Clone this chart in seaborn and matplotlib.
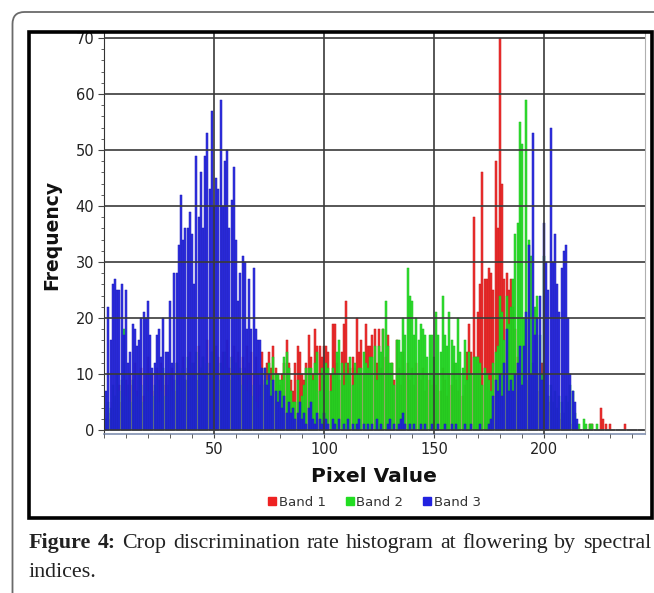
import numpy as np
import pandas as pd
import matplotlib
matplotlib.use("Agg")
import matplotlib.pyplot as plt
import seaborn as sns
from matplotlib.patches import FancyBboxPatch, Rectangle
from matplotlib.transforms import IdentityTransform
from matplotlib.lines import Line2D
from matplotlib.ticker import MultipleLocator, FixedLocator

# ---------------- data ----------------
pixel_values = list(range(246))

band1 = [
    0, 0, 2, 3, 5, 4, 6, 8, 5, 7,
    9, 6, 10, 8, 12, 7, 9, 11, 6, 10,
    13, 8, 10, 7, 11, 9, 12, 8, 10, 6,
    9, 11, 7, 12, 10, 8, 13, 9, 11, 14,
    10, 12, 9, 15, 11, 13, 10, 16, 12, 14,
    11, 15, 13, 10, 14, 12, 16, 11, 13, 15,
    12, 14, 10, 13, 11, 15, 12, 14, 10, 13,
    10, 8, 14, 9, 12, 14, 11, 15, 11, 10,
    8, 10, 12, 16, 12, 9, 7, 12, 15, 14,
    10, 9, 12, 17, 13, 10, 18, 15, 15, 13,
    15, 15, 14, 10, 19, 19, 12, 9, 14, 19,
    23, 12, 11, 13, 11, 20, 14, 16, 10, 19,
    15, 15, 17, 18, 12, 18, 11, 18, 13, 17,
    10, 12, 9, 16, 11, 8, 14, 10, 12, 9,
    11, 8, 12, 10, 9, 11, 7, 10, 9, 8,
    10, 8, 10, 7, 11, 9, 6, 10, 8, 12,
    9, 7, 10, 6, 8, 14, 19, 14, 38, 13,
    21, 26, 46, 27, 27, 29, 28, 25, 48, 36,
    70, 44, 27, 28, 25, 27, 22, 18, 13, 10,
    8, 12, 20, 9, 6, 8, 5, 10, 7, 12,
    12, 8, 5, 6, 3, 4, 2, 3, 2, 1,
    2, 1, 1, 0, 0, 0, 0, 0, 0, 0,
    0, 1, 1, 0, 0, 0, 4, 2, 1, 0,
    1, 0, 0, 0, 0, 0, 0, 1, 0, 0,
    0, 0, 0, 0, 0, 0,
]

band2 = [
    0, 2, 5, 4, 8, 6, 10, 7, 9, 18,
    6, 8, 5, 9, 7, 6, 10, 8, 5, 9,
    7, 10, 6, 8, 9, 5, 7, 11, 6, 8,
    10, 7, 9, 12, 8, 10, 11, 9, 13, 10,
    12, 9, 14, 10, 11, 13, 9, 12, 10, 14,
    11, 13, 9, 12, 10, 14, 11, 9, 13, 10,
    12, 9, 11, 8, 10, 7, 9, 6, 8, 5,
    4, 6, 8, 11, 9, 12, 9, 13, 10, 10,
    9, 9, 13, 14, 11, 7, 5, 5, 9, 4,
    6, 8, 11, 11, 11, 9, 12, 14, 7, 11,
    10, 12, 11, 7, 11, 10, 14, 16, 12, 8,
    12, 10, 13, 8, 12, 10, 11, 11, 14, 12,
    11, 13, 13, 15, 9, 15, 14, 18, 23, 15,
    12, 12, 8, 16, 16, 14, 20, 17, 29, 24,
    23, 17, 20, 16, 19, 18, 17, 13, 17, 17,
    13, 21, 17, 14, 24, 17, 15, 21, 16, 15,
    12, 20, 14, 11, 16, 9, 14, 10, 13, 13,
    13, 12, 8, 11, 10, 9, 7, 12, 14, 15,
    24, 21, 16, 24, 19, 22, 27, 35, 37, 55,
    51, 20, 59, 34, 31, 12, 22, 24, 17, 10,
    31, 10, 6, 8, 5, 7, 4, 6, 5, 3,
    6, 5, 8, 7, 3, 1, 1, 0, 2, 1,
    0, 1, 1, 0, 1, 0, 0, 0, 0, 0,
    0, 0, 0, 0, 0, 0, 0, 0, 0, 0,
    0, 0, 0, 0, 0, 0,
]

band3 = [
    0, 7, 22, 16, 26, 27, 25, 25, 26, 17,
    25, 12, 14, 19, 18, 15, 16, 20, 21, 20,
    23, 17, 11, 12, 17, 18, 13, 20, 14, 14,
    23, 12, 28, 28, 33, 42, 34, 36, 36, 39,
    35, 26, 49, 38, 46, 36, 49, 53, 43, 57,
    40, 45, 43, 59, 40, 48, 50, 36, 41, 47,
    34, 23, 28, 31, 30, 18, 27, 18, 29, 18,
    16, 16, 11, 11, 8, 10, 6, 9, 7, 5,
    7, 4, 6, 3, 5, 3, 4, 2, 3, 5,
    2, 3, 1, 4, 5, 2, 1, 3, 2, 1,
    3, 2, 1, 0, 2, 1, 0, 2, 0, 1,
    0, 2, 0, 1, 0, 1, 2, 0, 1, 0,
    1, 0, 1, 0, 2, 0, 1, 0, 0, 1,
    2, 0, 1, 0, 1, 2, 3, 1, 0, 1,
    0, 1, 0, 0, 1, 0, 1, 0, 0, 1,
    0, 0, 1, 0, 0, 1, 0, 0, 1, 0,
    1, 0, 0, 0, 1, 0, 0, 1, 0, 0,
    0, 1, 0, 0, 0, 1, 2, 6, 9, 7,
    10, 6, 12, 18, 7, 9, 7, 10, 12, 15,
    8, 15, 21, 33, 10, 53, 17, 20, 24, 9,
    37, 30, 25, 54, 30, 35, 26, 21, 29, 32,
    33, 20, 10, 7, 5, 2, 0, 0, 0, 0,
    0, 0, 0, 0, 0, 0, 0, 0, 0, 0,
    0, 0, 0, 0, 0, 0, 0, 0, 0, 0,
    0, 0, 0, 0, 0, 0,
]

band_names = ["Band 1", "Band 2", "Band 3"]
band_colors = ["#ee2222", "#22dd22", "#2222e0"]
band_edges = ["#c81818", "#1cbc1c", "#1a1ab8"]
x_tick_values = [50, 100, 150, 200]
y_tick_values = [0, 10, 20, 30, 40, 50, 60, 70]
x_label = "Pixel Value"
y_label = "Frequency"
caption_bold = "Figure 4:"
caption_line1 = "Crop discrimination rate histogram at flowering by spectral"
caption_line2 = "indices."

# ---------------- figure ----------------
sns.set_style("white")
plt.rcParams["font.family"] = ["DejaVu Sans"]
W, H = 654, 593
fig = plt.figure(figsize=(W / 100, H / 100), dpi=100)

ax_left, ax_right, ax_top, ax_bottom = 104, 645, 33, 434
ax = fig.add_axes([ax_left / W, 1 - ax_bottom / H,
                   (ax_right - ax_left) / W, (ax_bottom - ax_top) / H])

df = pd.DataFrame({"Pixel Value": pixel_values * 3,
                   "Frequency": band1 + band2 + band3,
                   "Band": [b for b in band_names for _ in pixel_values]})

for name, col, ec in zip(band_names, band_colors, band_edges):
    sub = df[df["Band"] == name]
    sns.histplot(data=sub, x="Pixel Value", weights="Frequency", discrete=True,
                 shrink=0.9, color=col, alpha=0.93, edgecolor=ec,
                 linewidth=0.35, ax=ax)

ax.set_xlim(0, 245.9)
ax.set_ylim(-0.72, 70.9)
ax.xaxis.set_major_locator(FixedLocator(x_tick_values))
ax.yaxis.set_major_locator(FixedLocator(y_tick_values))
ax.xaxis.set_minor_locator(MultipleLocator(10))
ax.yaxis.set_minor_locator(MultipleLocator(2))
ax.grid(True, which="major", color="#3a3a3a", linewidth=1.2)
ax.set_axisbelow(False)
ax.tick_params(axis="both", which="both", direction="out", colors="#444444",
               labelcolor="#222222", labelsize=10.5)
ax.tick_params(axis="y", which="major", length=4, left=True, pad=3)
ax.tick_params(axis="y", which="minor", length=2.5, left=True)
ax.tick_params(axis="x", which="major", length=3, bottom=True, pad=3)
ax.tick_params(axis="x", which="minor", length=3, bottom=True)
ax.set_xlabel("")
ax.set_ylabel("")
ax.spines["top"].set_visible(False)
ax.spines["left"].set_color("#333333")
ax.spines["bottom"].set_color("#8090b0")
ax.spines["bottom"].set_linewidth(1.2)
ax.spines["right"].set_color("#b0b0b0")

fig.text(374 / W, 1 - 477 / H, x_label, ha="center", va="center",
         fontsize=14.5, fontweight="bold", color="#111111")
fig.text(52 / W, 1 - 235 / H, y_label, ha="center", va="center",
         rotation=90, fontsize=13.5, fontweight="bold", color="#111111")

handles = [Line2D([0], [0], marker="s", linestyle="none", markersize=5.5,
                  markerfacecolor=c, markeredgecolor=c) for c in band_colors]
fig.legend(handles, band_names, loc="center", bbox_to_anchor=(374 / W, 1 - 502 / H),
           ncol=3, frameon=False, fontsize=9.5, handletextpad=0.1,
           columnspacing=1.4, handlelength=0.8, labelcolor="#333333",
           borderpad=0)

# frames
idt = IdentityTransform()
outer = FancyBboxPatch((12.5, H - 640), 720, 640 - 12,
                       boxstyle="round,pad=0,rounding_size=12",
                       fc="none", ec="#6a6a6a", lw=1.3, transform=idt)
fig.add_artist(outer)
inner = Rectangle((28.5, H - 518), 651.5 - 28.5, 518 - 31.5,
                  fc="none", ec="black", lw=2.6, transform=idt)
fig.add_artist(inner)

# caption (justified first line)
serif = ["Liberation Serif", "DejaVu Serif"]
cap_size = 15.8
renderer = fig.canvas.get_renderer()
words = [(w, "bold") for w in caption_bold.split()] + \
        [(w, "normal") for w in caption_line1.split()]
texts = []
for w, fw in words:
    t = fig.text(0, 0, w, fontsize=cap_size, fontweight=fw, family=serif,
                 color="#222222", va="baseline", ha="left", transform=idt)
    texts.append(t)
widths = [t.get_window_extent(renderer).width for t in texts]
x0, x1 = 29.0, 651.0
gap = (x1 - x0 - sum(widths)) / (len(texts) - 1)
xpos = x0
for t, wdt in zip(texts, widths):
    t.set_position((xpos, H - 548))
    xpos += wdt + gap
fig.text(29, H - 577, caption_line2, fontsize=cap_size, family=serif,
         color="#222222", va="baseline", ha="left", transform=idt)

fig.savefig("out.png", dpi=100)
